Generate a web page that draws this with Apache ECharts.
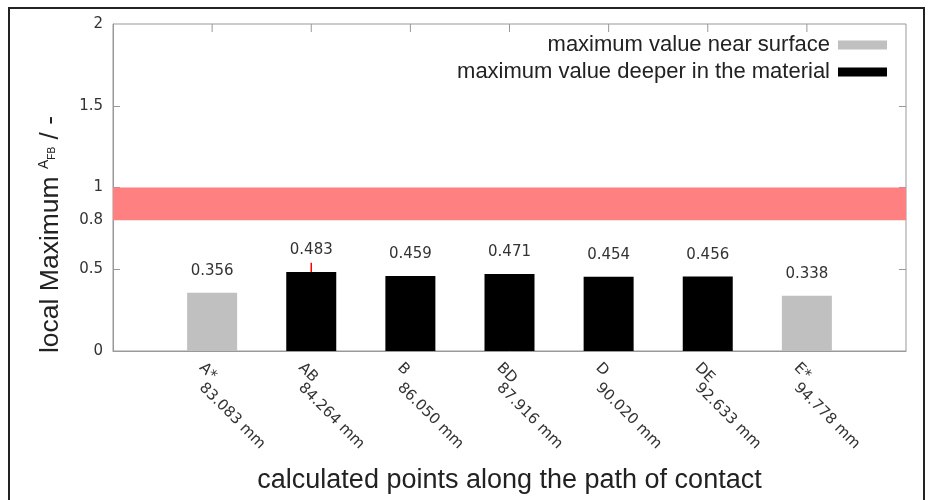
<!DOCTYPE html>
<html>
<head>
<meta charset="utf-8">
<script src="https://cdn.jsdelivr.net/npm/echarts@6/dist/echarts.min.js"></script>
<style>html,body{margin:0;padding:0;background:#fff}#c{width:936px;height:500px}</style>
</head>
<body>
<div id="c"></div>
<script>
// ---- data ----
const pointNames = ['', 'A*', 'AB', 'B', 'BD', 'D', 'DE', 'E*', ''];
const pointPositions = ['', '83.083 mm', '84.264 mm', '86.050 mm', '87.916 mm', '90.020 mm', '92.633 mm', '94.778 mm', ''];
const nearSurface = [null, 0.356, null, null, null, null, null, 0.338, null];
const deeperInMaterial = [null, null, 0.483, 0.459, 0.471, 0.454, 0.456, null, null];
const limitBand = [0.8, 1.0];
const errorAB = ['AB', 0.483, 0.54];
const yTickValues = [0, 0.5, 0.8, 1, 1.5, 2];
const yMinorTicks = [0.5, 1, 1.5];
const yMax = 2;
const seriesNames = ['maximum value near surface', 'maximum value deeper in the material'];
const xTitle = 'calculated points along the path of contact';

const categories = pointNames.map((n, i) => i === 0 || i === pointNames.length - 1 ? ' ' + i : n + '|' + pointPositions[i]);
const topTickCats = categories.filter((c, i) => i > 0 && i < categories.length - 1);

const chart = echarts.init(document.getElementById('c'), null, {renderer: 'canvas'});
const labelFont = 'DejaVu Sans';
const titleFont = 'Liberation Sans';
const axisGray = '#999';

const valueLabel = {
  show: true, position: 'top', distance: 14,
  fontFamily: labelFont, fontSize: 15, color: '#333',
  formatter: p => p.value == null ? '' : p.value.toFixed(3)
};

chart.setOption({
  animation: false,
  backgroundColor: '#fff',
  graphic: [{
    type: 'rect', shape: {x: 9, y: 8, width: 915, height: 520},
    style: {fill: 'none', stroke: '#222', lineWidth: 2}, z: 100
  }],
  legend: {
    orient: 'vertical', right: 44, top: 29, align: 'right',
    itemWidth: 49, itemHeight: 9, itemGap: 5,
    textStyle: {fontFamily: titleFont, fontSize: 22, lineHeight: 22, color: '#222', padding: [0, 3, 0, 0]},
    data: seriesNames.map(n => ({name: n, icon: 'rect'}))
  },
  grid: {left: 113, right: 30, top: 24, bottom: 149, show: true, borderColor: axisGray, borderWidth: 1, containLabel: false},
  xAxis: {
    type: 'category', data: categories, boundaryGap: false,
    axisLine: {show: true, lineStyle: {color: axisGray}},
    axisTick: {show: false},
    axisLabel: {
      interval: 0, rotate: -45, margin: 4, verticalAlign: 'top', padding: [8, 0, 0, 0],
      fontFamily: labelFont, fontSize: 15, color: '#333',
      formatter: v => {
        if (v.startsWith(' ')) return '';
        const parts = v.split('|');
        return '{a|' + parts[0] + '}\n{b|' + parts[1] + '}';
      },
      rich: {
        a: {fontFamily: labelFont, fontSize: 15, color: '#333', lineHeight: 14},
        b: {fontFamily: labelFont, fontSize: 15, color: '#333', lineHeight: 14, padding: [0, 0, 0, 14]}
      }
    },
    name: xTitle, nameLocation: 'middle', nameGap: 116,
    nameTextStyle: {fontFamily: titleFont, fontSize: 27, color: '#222'}
  },
  yAxis: [{
    type: 'value', min: 0, max: yMax,
    splitLine: {show: false},
    axisLine: {show: true, lineStyle: {color: axisGray}},
    axisTick: {show: true, inside: true, length: 7, customValues: yMinorTicks, lineStyle: {color: axisGray}},
    axisLabel: {customValues: yTickValues, margin: 10, fontFamily: labelFont, fontSize: 15, color: '#333',
      formatter: v => String(Math.round(v * 10) / 10)},
    name: '{a|local Maximum }{b|A}{c|FB}{a| / -}',
    nameLocation: 'middle', nameGap: 49, nameRotate: 90,
    nameTextStyle: {
      padding: [0, 94, 0, 0],
      rich: {
        a: {fontFamily: titleFont, fontSize: 26.5, color: '#222'},
        b: {fontFamily: titleFont, fontSize: 14, color: '#222', verticalAlign: 'top', padding: [0, 0, 8, 0]},
        c: {fontFamily: titleFont, fontSize: 10, color: '#222', padding: [4, 0, 0, 0]}
      }
    }
  }, {
    type: 'value', min: 0, max: yMax, position: 'right',
    splitLine: {show: false}, axisLine: {show: false}, axisLabel: {show: false},
    axisTick: {show: true, inside: true, length: 7, customValues: yMinorTicks, lineStyle: {color: axisGray}}
  }],
  series: [{
    name: seriesNames[0], type: 'bar', data: nearSurface, barWidth: 50, barGap: '-100%',
    itemStyle: {color: '#c0c0c0'}, label: valueLabel,
    markArea: {
      silent: true, itemStyle: {color: '#ff8080', opacity: 1},
      data: [[{yAxis: limitBand[0]}, {yAxis: limitBand[1]}]]
    }
  }, {
    name: seriesNames[1], type: 'bar', data: deeperInMaterial, barWidth: 50,
    itemStyle: {color: '#000'}, label: valueLabel
  }, {
    type: 'custom', data: [errorAB.map((v, i) => i === 0 ? categories[pointNames.indexOf(v)] : v)],
    encode: {x: 0, y: [1, 2]}, z: 10, silent: true,
    renderItem: (params, api) => {
      const p1 = api.coord([api.value(0), api.value(1)]);
      const p2 = api.coord([api.value(0), api.value(2)]);
      return {type: 'line', shape: {x1: p1[0], y1: p1[1], x2: p2[0], y2: p2[1]}, style: {stroke: '#ff0000', lineWidth: 1.5}};
    }
  }, {
    // mirrored category ticks along the top border
    type: 'custom', data: topTickCats.map(c => [c, yMax]), silent: true, z: 5,
    encode: {x: 0, y: 1},
    renderItem: (params, api) => {
      const p = api.coord([api.value(0), api.value(1)]);
      return {type: 'line', shape: {x1: p[0], y1: p[1], x2: p[0], y2: p[1] + 8}, style: {stroke: axisGray, lineWidth: 1}};
    }
  }]
});
</script>
</body>
</html>
